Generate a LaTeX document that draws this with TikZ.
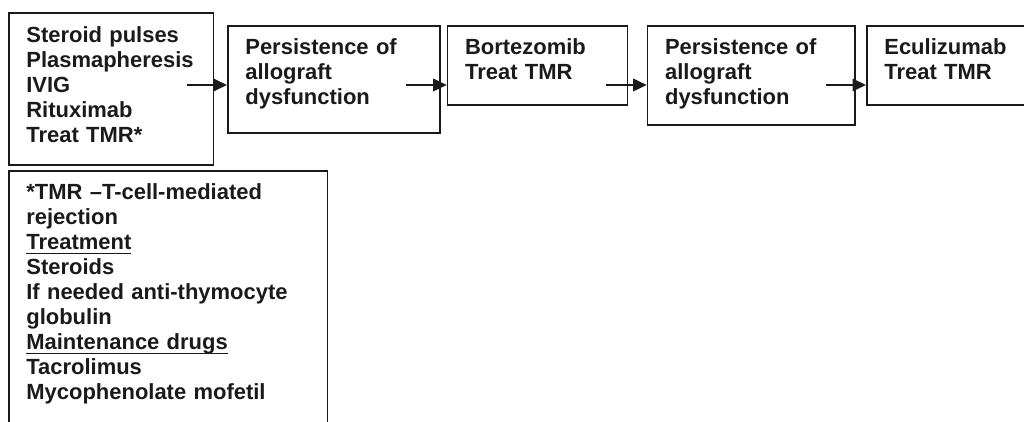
\documentclass[tikz,border=0pt]{standalone}
\usepackage{fontspec}
\setmainfont{Liberation Sans}
\usetikzlibrary{arrows.meta}
\hyphenpenalty=10000
\exhyphenpenalty=10000
\definecolor{ink}{HTML}{1A1A1A}
\newcommand{\undl}[1]{\leavevmode\setbox0\hbox{#1}\rlap{\rule[-2.6pt]{\wd0}{0.9pt}}\box0}
\tikzstyle{box} = [draw, anchor=north west, inner xsep=0.35cm, inner ysep=0pt, align=left, text height=0.58cm, font=\bfseries\fontsize{12.5}{14.2}\selectfont]
\tikzstyle{arrow} = [draw, -{Triangle[length=0.27cm, width=0.25cm]}]

\begin{document}
\begin{tikzpicture}[line width=1pt, draw=ink, text=ink]
			\useasboundingbox (0,0) rectangle (20.48,-8.44);

			\node [box, text width=3.39cm, text depth=2.45cm] (b1) at (0.16,-0.25) {Steroid pulses\\Plasmapheresis\\IVIG\\Rituximab\\Treat TMR*};
			\node [box, text width=3.54cm, text depth=1.56cm] (b2) at (4.54,-0.5) {Persistence of\\allograft\\dysfunction};
			\node [box, text width=2.9cm, text depth=1.0cm] (b3) at (8.934,-0.5) {Bortezomib\\Treat TMR};
			\node [box, text width=3.446cm, text depth=1.4cm] (b4) at (12.934,-0.5) {Persistence of\\allograft\\dysfunction};
			\node [box, text width=2.6cm, text depth=1.0cm] (b5) at (17.32,-0.5) {Eculizumab\\Treat TMR};
			\node [box, text width=5.674cm, text depth=4.52cm] (note) at (0.16,-3.4) {*TMR --T-cell-mediated\\rejection\\\undl{Treatment}\\Steroids\\If needed anti-thymocyte\\globulin\\\undl{Maintenance drugs}\\Tacrolimus\\Mycophenolate mofetil};

			\coordinate (s1) at (3.74,-1.7);
			\coordinate (s2) at (8.12,-1.7);
			\coordinate (s3) at (12.114,-1.7);
			\coordinate (s4) at (16.514,-1.7);

			\path [arrow] (s1) -- (s1 -| b2.west);
			\path [arrow] (s2) -- (s2 -| b3.west);
			\path [arrow] (s3) -- (s3 -| b4.west);
			\path [arrow] (s4) -- (s4 -| b5.west);
		\end{tikzpicture}
\end{document}
